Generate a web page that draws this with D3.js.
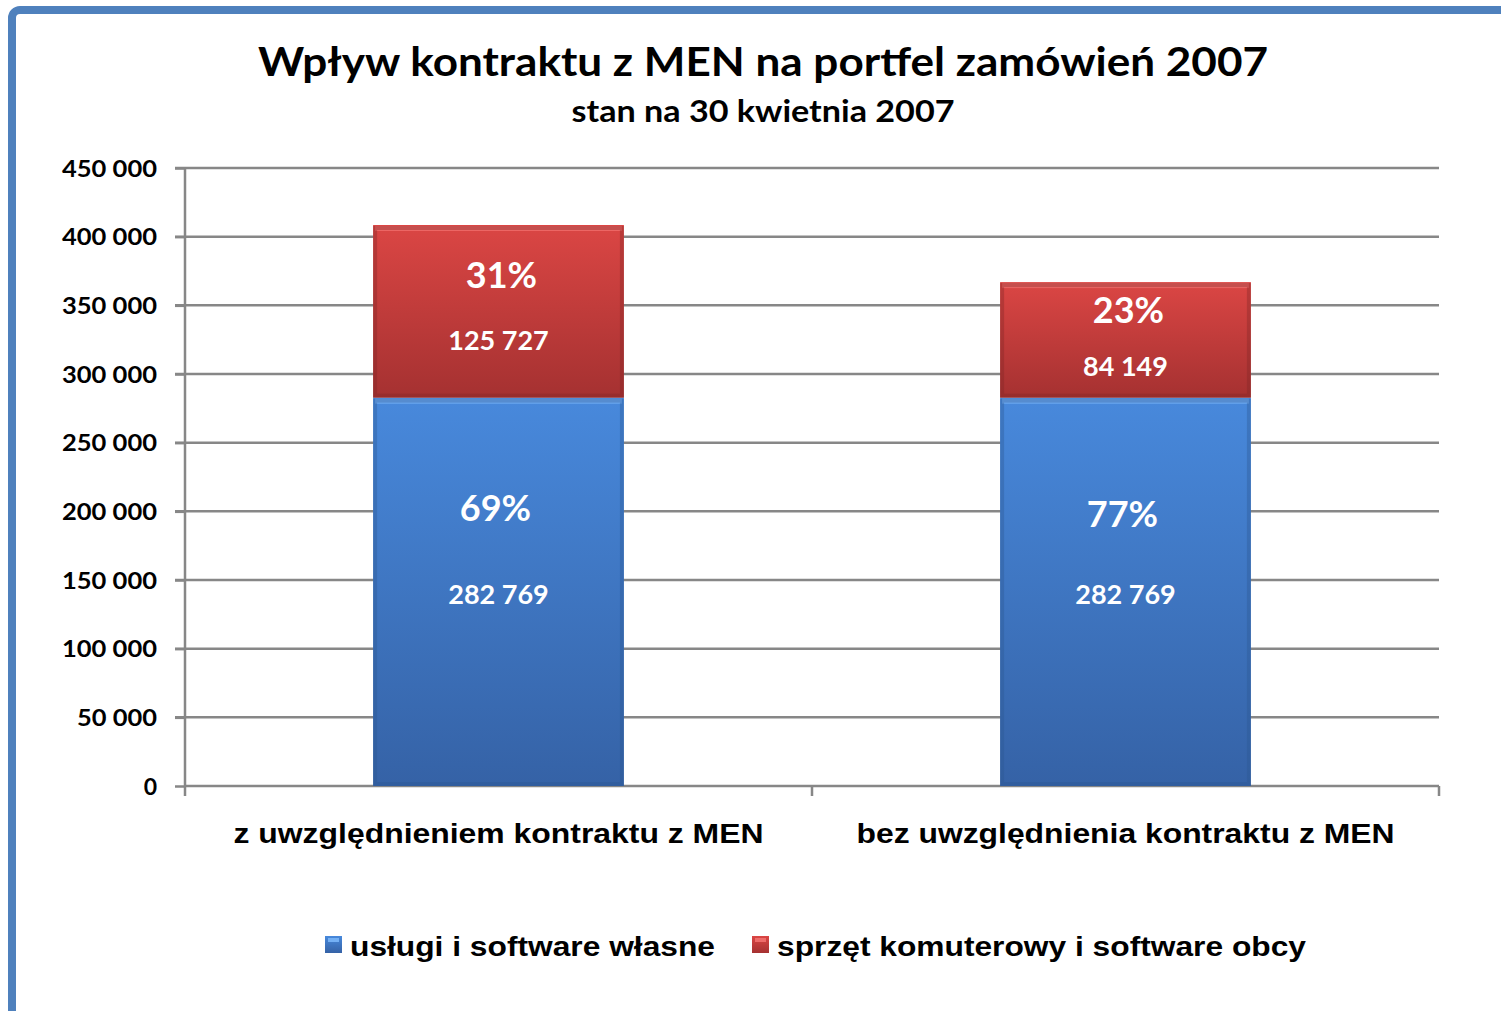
<!DOCTYPE html>
<html>
<head>
<meta charset="utf-8">
<script src="https://cdn.jsdelivr.net/npm/d3@7"></script>
<style>
  body { margin: 0; background: #fff; }
  text { font-family: "Liberation Sans", Arial, sans-serif; }
</style>
</head>
<body>
<div class="chart"></div>
<script>
// chart data
var categories = ["z uwzględnieniem kontraktu z MEN", "bez uwzględnienia kontraktu z MEN"];
var seriesNames = ["usługi i software własne", "sprzęt komuterowy i software obcy"];
var ownValues = [282769, 282769];
var foreignValues = [125727, 84149];
var ownPct = ["69%", "77%"];
var foreignPct = ["31%", "23%"];
var yTicks = [0, 50000, 100000, 150000, 200000, 250000, 300000, 350000, 400000, 450000];

var svgWidth = 1501, svgHeight = 1011;
var margin = {top: 168, right: 62, bottom: 225, left: 185};
var width = svgWidth - margin.left - margin.right;
var height = svgHeight - margin.top - margin.bottom;

var svg = d3.select(".chart").append("svg")
  .attr("width", svgWidth)
  .attr("height", svgHeight);

// gradients
var defs = svg.append("defs");
function grad(id, c1, c2) {
  var g = defs.append("linearGradient").attr("id", id)
    .attr("x1", 0).attr("y1", 0).attr("x2", 0).attr("y2", 1);
  g.append("stop").attr("offset", "0%").attr("stop-color", c1);
  g.append("stop").attr("offset", "100%").attr("stop-color", c2);
}
grad("gBlue", "#4889dc", "#3562a6");
grad("gRed", "#db4644", "#a53131");

// outer frame
svg.append("rect")
  .attr("x", 12).attr("y", 10)
  .attr("width", 1560).attr("height", 1100)
  .attr("rx", 8)
  .attr("fill", "none")
  .attr("stroke", "#4f81bd")
  .attr("stroke-width", 8);

// titles
svg.append("text")
  .attr("x", 763).attr("y", 76)
  .attr("text-anchor", "middle")
  .style("font-family", "Lato, 'Open Sans', sans-serif")
  .style("font-weight", "bold").style("font-size", "40px")
  .attr("textLength", 1010).attr("lengthAdjust", "spacingAndGlyphs")
  .text("Wpływ kontraktu z MEN na portfel zamówień 2007");

svg.append("text")
  .attr("x", 763).attr("y", 122)
  .attr("text-anchor", "middle")
  .style("font-family", "Lato, 'Open Sans', sans-serif")
  .style("font-weight", "bold").style("font-size", "30px")
  .attr("textLength", 383).attr("lengthAdjust", "spacingAndGlyphs")
  .text("stan na 30 kwietnia 2007");

var chartGroup = svg.append("g")
  .attr("transform", `translate(${margin.left}, ${margin.top})`);

var x = d3.scaleBand().domain(categories).range([0, width]).paddingInner(0).paddingOuter(0);
var y = d3.scaleLinear().domain([0, 450000]).range([height, 0]);
var barW = x.bandwidth() * 0.4;

var fmt = function(v) { return d3.format(",")(v).replace(/,/g, " "); };

// gridlines
chartGroup.append("g")
  .selectAll("line").data(yTicks.slice(1)).enter().append("line")
  .attr("x1", -10).attr("x2", width)
  .attr("y1", d => y(d)).attr("y2", d => y(d))
  .attr("stroke", "#878787").attr("stroke-width", 2.5);

// y axis
var leftAxis = d3.axisLeft(y).tickValues(yTicks).tickSize(10).tickFormat(fmt);
var yAxis = chartGroup.append("g").call(leftAxis);
yAxis.select(".domain").attr("stroke", "#878787").attr("stroke-width", 2.5).attr("d", `M0,${height}V0`);
yAxis.selectAll(".tick line").attr("stroke", "#878787").attr("stroke-width", 2.5);
yAxis.selectAll(".tick text")
  .attr("x", -28).attr("dy", "0.35em")
  .style("font-family", "Lato, 'Open Sans', sans-serif")
  .style("font-weight", "bold").style("font-size", "23px").attr("fill", "#000")
  .each(function(d) {
    var s = fmt(d);
    if (s.length === 7) d3.select(this).attr("textLength", 95).attr("lengthAdjust", "spacingAndGlyphs");
    else if (s.length === 6) d3.select(this).attr("textLength", 80).attr("lengthAdjust", "spacingAndGlyphs");
  });

// x axis
var bottomAxis = d3.axisBottom(x).tickSize(0).tickFormat("");
var xAxis = chartGroup.append("g").attr("transform", `translate(0, ${height})`).call(bottomAxis);
xAxis.select(".domain").attr("stroke", "#878787").attr("stroke-width", 2.5).attr("d", `M0,0H${width}`);
xAxis.selectAll(".sep").data([0, 1, 2]).enter().append("line")
  .attr("x1", d => d * x.bandwidth()).attr("x2", d => d * x.bandwidth())
  .attr("y1", 0).attr("y2", 10)
  .attr("stroke", "#878787").attr("stroke-width", 2.5);

// category labels
var catLen = [530, 538];
chartGroup.selectAll("text.cat").data(categories).enter().append("text")
  .attr("class", "cat")
  .attr("x", d => x(d) + x.bandwidth() / 2)
  .attr("y", height + 57)
  .attr("text-anchor", "middle")
  .style("font-weight", "bold").style("font-size", "28px")
  .attr("textLength", (d, i) => catLen[i]).attr("lengthAdjust", "spacingAndGlyphs")
  .text(d => d);

// stacked segments
var segs = [];
categories.forEach(function(c, i) {
  segs.push({cat: c, i: i, y0: 0, y1: ownValues[i], v: ownValues[i], pct: ownPct[i], s: 0});
  segs.push({cat: c, i: i, y0: ownValues[i], y1: ownValues[i] + foreignValues[i], v: foreignValues[i], pct: foreignPct[i], s: 1});
});

var segG = chartGroup.selectAll("g.seg").data(segs).enter().append("g").attr("class", "seg");

segG.append("rect")
  .attr("x", d => x(d.cat) + x.bandwidth() / 2 - barW / 2)
  .attr("y", d => y(d.y1))
  .attr("width", barW)
  .attr("height", d => y(d.y0) - y(d.y1))
  .attr("fill", d => d.s === 0 ? "url(#gBlue)" : "url(#gRed)");

// bevel: light top strip
segG.append("rect")
  .attr("x", d => x(d.cat) + x.bandwidth() / 2 - barW / 2 + 2)
  .attr("y", d => y(d.y1) + 1)
  .attr("width", barW - 4)
  .attr("height", 5)
  .attr("fill", d => d.s === 0 ? "#74b0f4" : "#ee6c6a")
  .attr("opacity", 0.85);

// bevel: darker sides and bottom
segG.append("rect")
  .attr("x", d => x(d.cat) + x.bandwidth() / 2 - barW / 2 + 2)
  .attr("y", d => y(d.y1) + 3)
  .attr("width", barW - 4)
  .attr("height", d => y(d.y0) - y(d.y1) - 5)
  .attr("fill", "none")
  .attr("stroke", d => d.s === 0 ? "#2c5590" : "#7f2525")
  .attr("stroke-opacity", 0.35)
  .attr("stroke-width", 4);

// data labels
var labelFont = "Lato, 'Open Sans', sans-serif";
segG.append("text")
  .attr("x", d => x(d.cat) + x.bandwidth() / 2 + (d.s === 1 ? 3 : -3))
  .attr("y", d => (y(d.y0) + y(d.y1)) / 2 + (d.s === 0 ? (d.i === 0 ? -71 : -65) : (d.i === 0 ? -23 : -17)))
  .attr("text-anchor", "middle")
  .attr("fill", "#fff")
  .style("font-family", labelFont)
  .style("font-weight", "bold").style("font-size", "36px")
  .text(d => d.pct);

segG.append("text")
  .attr("x", d => x(d.cat) + x.bandwidth() / 2)
  .attr("y", d => (y(d.y0) + y(d.y1)) / 2 + (d.s === 0 ? 12 : (d.i === 0 ? 39 : 36)))
  .attr("text-anchor", "middle")
  .attr("fill", "#fff")
  .style("font-family", labelFont)
  .style("font-weight", "bold").style("font-size", "27px")
  .text(d => fmt(d.v));

// legend
var legX = [325, 752];
var legLen = [365, 529];
var legend = svg.selectAll("g.leg").data(seriesNames).enter().append("g")
  .attr("class", "leg")
  .attr("transform", (d, i) => `translate(${legX[i]}, 936)`);
legend.append("rect")
  .attr("width", 17).attr("height", 17)
  .attr("fill", (d, i) => i === 0 ? "url(#gBlue)" : "url(#gRed)");
legend.append("rect")
  .attr("x", 3).attr("y", 2).attr("width", 11).attr("height", 4)
  .attr("fill", (d, i) => i === 0 ? "#74b0f4" : "#ee6c6a");
legend.append("text")
  .attr("x", 25).attr("y", 20)
  .style("font-weight", "bold").style("font-size", "28px")
  .attr("textLength", (d, i) => legLen[i]).attr("lengthAdjust", "spacingAndGlyphs")
  .text(d => d);
</script>
</body>
</html>
